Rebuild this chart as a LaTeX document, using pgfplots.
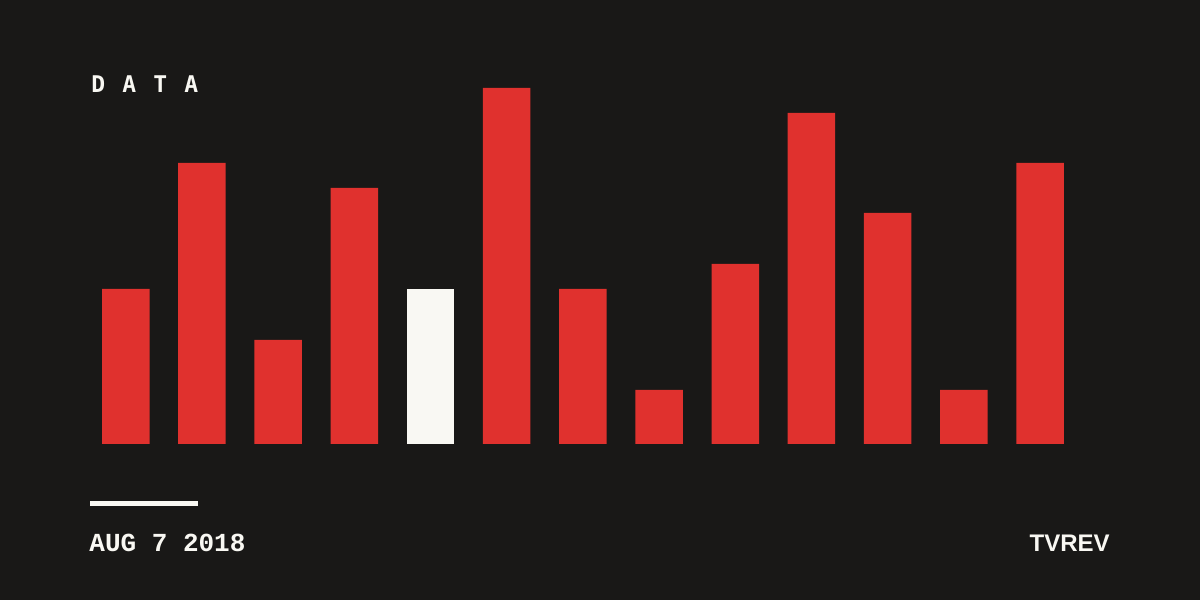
\documentclass[border=0pt]{standalone}
\usepackage{fontspec}
\usepackage{pgfplots}
\pgfplotsset{compat=1.18}
\setmainfont{Liberation Sans}
\newfontfamily\mono{Liberation Mono}
\newfontfamily\sansmono{DejaVu Sans Mono}
\definecolor{bg}{HTML}{191817}
\definecolor{barred}{HTML}{E0312E}
\definecolor{barwhite}{HTML}{F9F8F3}
\definecolor{ink}{HTML}{F9F8F3}

\begin{document}
\begin{tikzpicture}[x=0.5pt, y=0.5pt]
% canvas, 1 unit = 1 reference pixel, y measured from the bottom
\fill[bg] (0,0) rectangle (1200,600);

\begin{axis}[
    at={(0pt,78pt)}, anchor=south west,
    scale only axis,
    width=600pt, height=222pt,
    xmin=0, xmax=1200,
    ymin=0, ymax=444,
    hide axis, clip=false,
    ybar, bar width=23.75pt, bar shift=0pt,
]
\addplot[fill=barred, draw=none] coordinates {
    (125.75,155)(201.94,281)(278.13,104)(354.32,256)
    (506.70,356)(582.89,155)(659.08,54)(735.27,180)
    (811.46,331)(887.65,231)(963.84,54)(1040.03,281)
};
\addplot[fill=barwhite, draw=none] coordinates {(430.51,155)};
\end{axis}

% title letters
\foreach \c/\px in {D/91, A/122, T/153, A/184}
    \node[anchor=base west, inner sep=0pt, text=ink, font=\sansmono\bfseries\fontsize{11.5}{11.5}\selectfont] at (\px,507) {\c};

% rule and footer
\fill[ink] (90,94) rectangle (198,99);
\node[anchor=base west, inner sep=0pt, text=ink, font=\mono\bfseries\fontsize{13}{13}\selectfont] at (89,48) {AUG 7 2018};
\node[anchor=base east, inner sep=0pt, text=ink, font=\bfseries\fontsize{12}{12}\selectfont] at (1110,48) {TVREV};
\end{tikzpicture}
\end{document}
